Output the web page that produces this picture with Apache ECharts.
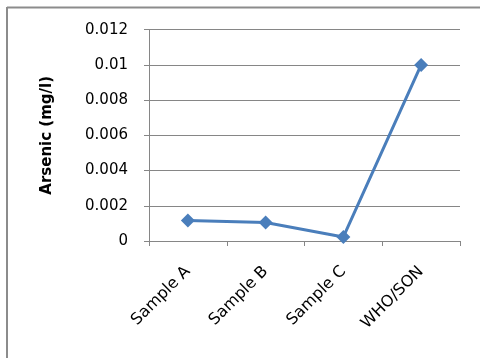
<!DOCTYPE html>
<html>
<head>
<meta charset="utf-8">
<script src="https://cdn.jsdelivr.net/npm/echarts@6/dist/echarts.min.js"></script>
<style>
  html, body { margin: 0; padding: 0; background: #fff; }
  #chart { width: 480px; height: 358px; }
</style>
</head>
<body>
<div id="chart"></div>
<script>
// Arsenic concentration per sample, compared with the WHO/SON guideline
const categories = ['Sample A', 'Sample B', 'Sample C', 'WHO/SON'];
const arsenic = [0.00116, 0.00105, 0.00023, 0.01];
const yTicks = { min: 0, max: 0.012, interval: 0.002 };

const chart = echarts.init(document.getElementById('chart'), null, { renderer: 'canvas' });
const font = 'DejaVu Sans, sans-serif';

chart.setOption({
  backgroundColor: '#ffffff',
  animation: false,
  graphic: [
    { type: 'line', shape: { x1: 7, y1: 7.5, x2: 480, y2: 7.5 }, style: { stroke: '#8c8c8c', lineWidth: 2 } },
    { type: 'line', shape: { x1: 7, y1: 7, x2: 7, y2: 358 }, style: { stroke: '#8c8c8c', lineWidth: 2 } }
  ],
  grid: { left: 149, right: 20, top: 29.7, bottom: 117 },
  xAxis: {
    type: 'category',
    data: categories,
    boundaryGap: true,
    axisLine: { lineStyle: { color: '#868686', width: 1 } },
    axisTick: { show: true, length: 5, lineStyle: { color: '#868686' } },
    axisLabel: { rotate: 45, margin: 28, fontSize: 16, color: '#000', fontFamily: font, interval: 0 },
    splitLine: { show: false }
  },
  yAxis: {
    type: 'value',
    min: yTicks.min,
    max: yTicks.max,
    interval: yTicks.interval,
    name: 'Arsenic (mg/l)',
    nameLocation: 'middle',
    nameGap: 94,
    nameRotate: 90,
    nameTextStyle: { fontSize: 15, fontWeight: 'bold', color: '#000', fontFamily: font },
    axisLine: { show: true, lineStyle: { color: '#868686', width: 1 } },
    axisTick: { show: true, length: 5, lineStyle: { color: '#868686' } },
    axisLabel: { fontSize: 15, color: '#000', margin: 21, fontFamily: font,
      formatter: v => String(parseFloat(v.toFixed(4))) },
    splitLine: { lineStyle: { color: '#868686', width: 1 } }
  },
  series: [{
    type: 'line',
    data: arsenic,
    symbol: 'diamond',
    symbolSize: 14,
    lineStyle: { color: '#4a7ebb', width: 3 },
    itemStyle: { color: '#4a7ebb' }
  }]
});
</script>
</body>
</html>
